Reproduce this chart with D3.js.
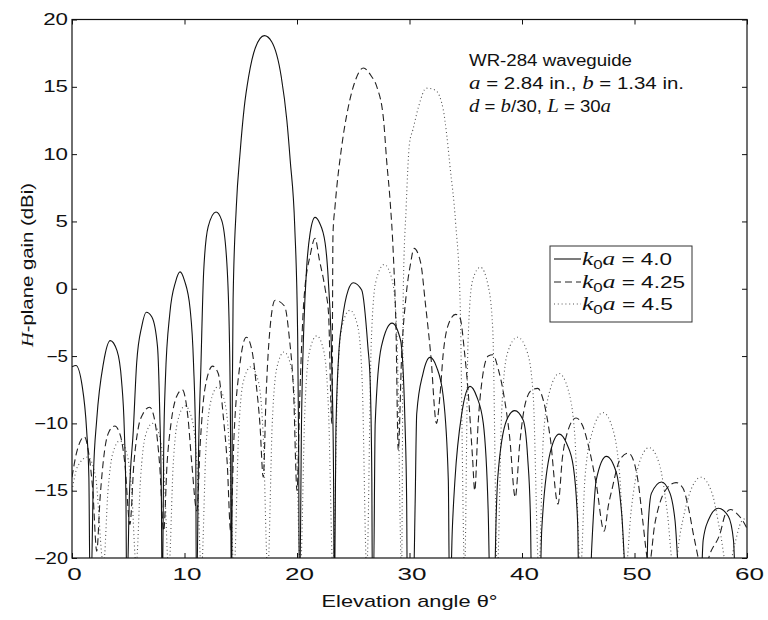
<!DOCTYPE html>
<html><head><meta charset="utf-8">
<script src="https://cdn.jsdelivr.net/npm/d3@7"></script>
<style>
body{margin:0;background:#fff}
svg{display:block}
text{font-family:"Liberation Sans",Arial,Helvetica,sans-serif;fill:#111}
</style></head><body>
<svg id="chart" width="768" height="620"></svg>
<script>
// ---- data ----
const xTicks = [0, 10, 20, 30, 40, 50, 60];
const yTicks = [-20, -15, -10, -5, 0, 5, 10, 15, 20];
const legendValues = ["4.0", "4.25", "4.5"];
const annotationLines = ["WR-284 waveguide", "a = 2.84 in., b = 1.34 in.", "d = b/30, L = 30a"];

// k0a = 4.0 (solid) : [elevation deg, gain dBi]
const gainK40 = [
[0,-5.8],[0.35,-5.7],[0.9,-7.2],[1.3,-10.5],[1.5,-14],[1.6,-22],
[1.7,-22],[1.9,-14],[2.2,-9.7],[2.8,-5.5],[3.4,-3.85],[4.0,-4.6],[4.4,-6.8],[4.65,-10.5],[4.8,-16],[4.85,-22],
[4.9,-22],[5.1,-15.4],[5.45,-10.5],[5.75,-5.5],[6.2,-2.8],[6.6,-1.75],[7.1,-2.1],[7.6,-4.3],[7.8,-9.2],[7.95,-16],[8.0,-22],
[8.05,-22],[8.15,-12],[8.3,-6.8],[8.7,-1.8],[9.2,0.5],[9.6,1.25],[10.0,0.6],[10.5,-1.5],[10.8,-5.5],[11.0,-12],[11.05,-22],
[11.1,-22],[11.25,-12],[11.45,-6],[11.7,1.2],[12.1,4.6],[12.8,5.7],[13.3,5.1],[13.75,2.1],[14.0,-4],[14.1,-12],[14.15,-22],
[14.2,-22],[14.25,-8],[14.32,-0.8],[14.6,6.0],[14.95,10.2],[15.3,13.4],[15.7,15.75],[16.3,17.9],[17.1,18.8],[17.75,18.35],[18.6,15.75],[19.1,12.5],[19.4,9.5],[19.8,4.6],[20.05,-3],[20.15,-12],[20.2,-22],
[20.25,-22],[20.4,-10],[20.6,-3],[20.86,1.6],[21.16,4.1],[21.6,5.3],[22.0,4.9],[22.5,3.4],[22.8,0.4],[23.1,-6],[23.25,-14],[23.3,-22],
[23.35,-22],[23.45,-11],[23.7,-5],[24.0,-2.5],[24.55,-0.1],[25.0,0.45],[25.75,-0.1],[26.3,-4.3],[26.5,-6.8],[26.65,-14],[26.7,-22],
[26.8,-22],[26.95,-10],[27.5,-4.3],[28.45,-2.55],[29.2,-3.8],[29.6,-10],[29.75,-16],[29.8,-22],
[30.35,-22],[30.5,-16],[30.64,-9.3],[31.2,-6.3],[31.82,-5.1],[32.4,-5.8],[33.0,-8.0],[33.45,-14.2],[33.55,-22],
[33.65,-22],[33.8,-18],[34.04,-14.2],[34.64,-9.3],[35.38,-7.25],[35.97,-8.0],[36.56,-10.0],[37.0,-16.7],[37.15,-22],
[37.55,-22],[37.7,-17],[37.85,-14],[38.64,-9.75],[39.35,-9.05],[40.1,-9.75],[40.5,-12.5],[40.75,-17],[40.85,-22],
[41.6,-22],[41.75,-18],[42.5,-12.2],[43.3,-10.8],[43.97,-11.5],[44.56,-13.2],[44.95,-17.5],[45.05,-22],
[46.05,-22],[46.2,-19.2],[46.6,-14.2],[47.5,-12.45],[48.4,-13.7],[48.86,-16.7],[49.3,-22],
[51.05,-22],[51.2,-17.9],[51.5,-15.2],[52.4,-14.35],[53.16,-15.2],[53.6,-17.2],[54.05,-22],
[55.9,-22],[56.1,-18.7],[56.56,-17.2],[57.45,-16.3],[58.34,-16.9],[58.8,-18.7],[59.0,-22],[60,-22]
];

// k0a = 4.25 (dashed)
const gainK425 = [
[0,-14],[0.4,-12.2],[1.1,-11.0],[1.5,-12.3],[1.85,-15],[2.2,-19.5],
[2.5,-15.5],[2.9,-12],[3.3,-10.6],[3.8,-10.2],[4.3,-10.9],[4.7,-13],[5.15,-17.5],
[5.5,-13],[5.9,-10.3],[6.3,-9.3],[6.9,-8.8],[7.4,-10],[7.8,-13.2],[8.15,-18],
[8.45,-13],[8.8,-10],[9.3,-8.0],[9.8,-7.5],[10.3,-9.5],[10.65,-13],[11.1,-16.5],
[11.4,-11.5],[11.8,-7.5],[12.5,-5.75],[13.0,-6.3],[13.45,-9.5],[13.8,-13],[14.1,-18],
[14.4,-11],[14.9,-5.8],[15.5,-3.6],[16.0,-4.6],[16.4,-7.3],[16.7,-10],[17.0,-14],
[17.25,-8],[17.5,-4],[18.05,-0.85],[18.9,-1.3],[19.3,-3.5],[19.7,-7.8],[20.0,-15],
[20.25,-8],[20.6,-1],[21.2,2.6],[21.6,3.75],[22.0,2.1],[22.5,0],[22.8,-1.8],[23.1,-10],
[23.2,4.1],[23.38,6.1],[23.97,10.55],[24.56,13.5],[25.2,15.5],[25.9,16.4],[26.6,15.8],[27.1,15.0],[27.7,12.5],[27.97,9.5],[28.27,6.6],[28.56,2.6],[28.8,-3],[29.0,-12],
[29.3,-5],[29.7,-0.5],[30.1,1.9],[30.4,3.0],[31.0,1.9],[31.4,-1],[31.9,-5],[32.4,-10],
[32.7,-8],[33.0,-4.8],[33.4,-2.8],[34.1,-1.9],[34.5,-2.2],[34.9,-4.8],[35.2,-7.5],[35.6,-12.5],[35.8,-15],
[36.1,-10],[36.5,-6.5],[37.0,-5.0],[37.4,-4.9],[37.9,-6.0],[38.3,-7.5],[38.9,-11],[39.4,-15.5],
[39.8,-11.5],[40.3,-8.5],[40.9,-7.5],[41.4,-7.4],[41.9,-8.3],[42.5,-11],[43.2,-16],
[43.6,-12.5],[44.1,-10.5],[44.8,-9.6],[45.4,-10.2],[46.0,-12],[46.6,-14.5],[47.3,-18],
[47.7,-16],[48.0,-14.9],[48.7,-12.7],[49.45,-12.2],[50.0,-13],[50.35,-14.5],[50.7,-17],[51.3,-20.5],
[51.8,-17.5],[52.3,-15.8],[52.9,-14.8],[53.7,-14.4],[54.3,-14.8],[54.8,-16.3],[55.3,-18.5],[56.1,-21],
[56.8,-19.5],[57.6,-18.2],[58.1,-16.7],[58.55,-16.4],[59.1,-16.7],[59.6,-17.2],[60,-17.8]
];

// k0a = 4.5 (dotted)
const gainK45 = [
[0,-15],[0.5,-13.2],[1.4,-12.5],[2.1,-14],[2.8,-20.5],
[3.2,-15],[3.6,-12.3],[4.25,-11.3],[4.9,-12.3],[5.3,-15],[5.7,-20.5],
[6.1,-14],[6.5,-11],[7.15,-10],[7.8,-11],[8.2,-14],[8.6,-21],
[9.0,-13],[9.4,-9.8],[10.05,-8.7],[10.7,-9.8],[11.1,-13],[11.5,-21],
[11.9,-12],[12.3,-8.5],[12.95,-7.3],[13.6,-8.5],[14.0,-12],[14.4,-21],
[14.8,-11],[15.2,-7.0],[15.9,-5.8],[16.6,-7.0],[17.0,-11],[17.4,-21],
[17.8,-10],[18.2,-5.9],[18.85,-4.7],[19.5,-5.9],[19.9,-10],[20.3,-21],
[20.7,-9],[21.1,-4.7],[21.75,-3.5],[22.4,-4.7],[22.8,-9],[23.2,-21],
[23.6,-7],[24.0,-2.8],[24.7,-1.6],[25.4,-2.8],[25.8,-7],[26.2,-21],
[26.6,-4],[27.0,0.5],[27.75,1.8],[28.5,0.5],[28.9,-4],[29.3,-21],
[29.45,0],[29.7,6],[30.0,10.8],[30.3,11.8],[30.8,13.5],[31.5,14.9],[32.3,14.75],[33.0,13.3],[33.3,11.5],[33.6,9.1],[34.1,4.9],[34.5,-1],[34.9,-21],
[35.2,-4],[35.6,0.6],[36.3,1.6],[37.0,0.2],[37.4,-3],[37.8,-21],
[38.2,-9],[38.7,-4.8],[39.6,-3.6],[40.5,-4.8],[41.0,-8],[41.5,-21],
[41.9,-11],[42.5,-7.5],[43.3,-6.3],[44.1,-7.5],[44.7,-11],[45.2,-21],
[45.6,-14],[46.3,-10.5],[47.2,-9.2],[48.1,-10.5],[48.7,-14],[49.2,-21],
[49.7,-16.5],[50.4,-13],[51.3,-11.8],[52.2,-13],[52.9,-16.5],[53.5,-21],
[54.1,-18],[54.9,-15.2],[55.9,-14.0],[56.9,-15.2],[57.6,-18],[58.3,-21],
[58.9,-19],[59.5,-17.3],[60,-17.0]
];

// ---- drawing ----
const SANS = '"Liberation Sans",Arial,Helvetica,sans-serif';
const SERIF = '"Liberation Serif","Times New Roman",Times,serif';
const svg = d3.select("#chart");
const x = d3.scaleLinear().domain([0, 60]).range([72, 747]);
const y = d3.scaleLinear().domain([-20, 20]).range([558, 19.5]);

svg.append("defs").append("clipPath").attr("id", "clip")
  .append("rect").attr("x", x(0)).attr("y", y(20))
  .attr("width", x(60) - x(0)).attr("height", y(-20) - y(20));

const line = d3.line().x(d => x(d[0])).y(d => y(d[1])).curve(d3.curveMonotoneX);
const styles = [
  {data: gainK40, dash: null, color: "#111", w: 1.1},
  {data: gainK425, dash: "7,4", color: "#222", w: 1.1},
  {data: gainK45, dash: "1,2.8", color: "#555", w: 1.1}
];
const plot = svg.append("g").attr("clip-path", "url(#clip)");
styles.slice().reverse().forEach(s => {
  plot.append("path").datum(s.data).attr("d", line)
    .attr("fill", "none").attr("stroke", s.color).attr("stroke-width", s.w)
    .attr("stroke-dasharray", s.dash);
});

// axes (MATLAB-style inward ticks on all four sides)
function styleAxis(g) { g.select(".domain").remove(); g.selectAll(".tick line").attr("stroke", "#111"); }
const axL = svg.append("g").attr("transform", `translate(${x(0)},0)`)
  .call(d3.axisLeft(y).tickValues(yTicks).tickSizeInner(-5).tickSizeOuter(0).tickPadding(4))
  .attr("font-family", SANS).attr("font-size", 16).call(styleAxis);
axL.selectAll(".tick text").attr("fill", "#111").each(function() {
  const s = this.textContent; let w = 0;
  for (const c of s) w += (c === "\u2212") ? 9 : 12.4;
  d3.select(this).attr("textLength", w).attr("lengthAdjust", "spacingAndGlyphs");
});
const axB = svg.append("g").attr("transform", `translate(0,${y(-20)})`)
  .call(d3.axisBottom(x).tickValues(xTicks).tickSizeInner(-5).tickSizeOuter(0).tickPadding(10))
  .attr("font-family", SANS).attr("font-size", 17).call(styleAxis);
axB.selectAll(".tick text").attr("fill", "#111").each(function() {
  const s = this.textContent;
  d3.select(this).attr("textLength", 14.5 * s.length).attr("lengthAdjust", "spacingAndGlyphs").attr("dx", 2);
});
svg.append("g").attr("transform", `translate(${x(60)},0)`)
  .call(d3.axisRight(y).tickValues(yTicks).tickSizeInner(-5).tickSizeOuter(0).tickFormat(""))
  .call(styleAxis);
svg.append("g").attr("transform", `translate(0,${y(20)})`)
  .call(d3.axisTop(x).tickValues(xTicks).tickSizeInner(-5).tickSizeOuter(0).tickFormat(""))
  .call(styleAxis);

svg.append("rect").attr("x", x(0)).attr("y", y(20))
  .attr("width", x(60) - x(0)).attr("height", y(-20) - y(20))
  .attr("fill", "none").attr("stroke", "#111").attr("stroke-width", 1.2);

// axis titles
svg.append("text").attr("x", (x(0) + x(60)) / 2).attr("y", 607)
  .attr("text-anchor", "middle").attr("font-size", 17)
  .attr("textLength", 176).attr("lengthAdjust", "spacingAndGlyphs")
  .text("Elevation angle \u03B8\u00B0");

const yl = svg.append("text").attr("transform", "translate(33,265) rotate(-90)")
  .attr("text-anchor", "middle").attr("font-size", 17)
  .attr("textLength", 164).attr("lengthAdjust", "spacingAndGlyphs");
yl.append("tspan").attr("font-family", SERIF).attr("font-style", "italic").text("H");
yl.append("tspan").text("-plane gain (dBi)");

// annotation block
const annX = 469;
const a1 = svg.append("text").attr("x", annX).attr("y", 66).attr("font-size", 16)
  .attr("textLength", 163).attr("lengthAdjust", "spacingAndGlyphs").text(annotationLines[0]);
const a2 = svg.append("text").attr("x", annX).attr("y", 89).attr("font-size", 16)
  .attr("textLength", 215).attr("lengthAdjust", "spacingAndGlyphs");
a2.append("tspan").attr("font-family", SERIF).attr("font-style", "italic").attr("font-size", 18).text("a");
a2.append("tspan").text(" = 2.84 in., ");
a2.append("tspan").attr("font-family", SERIF).attr("font-style", "italic").attr("font-size", 18).text("b");
a2.append("tspan").text(" = 1.34 in.");
const a3 = svg.append("text").attr("x", annX).attr("y", 111.5).attr("font-size", 16)
  .attr("textLength", 142).attr("lengthAdjust", "spacingAndGlyphs");
a3.append("tspan").attr("font-family", SERIF).attr("font-style", "italic").attr("font-size", 18).text("d");
a3.append("tspan").text(" = ");
a3.append("tspan").attr("font-family", SERIF).attr("font-style", "italic").attr("font-size", 18).text("b");
a3.append("tspan").text("/30, ");
a3.append("tspan").attr("font-family", SERIF).attr("font-style", "italic").attr("font-size", 18).text("L");
a3.append("tspan").text(" = 30");
a3.append("tspan").attr("font-family", SERIF).attr("font-style", "italic").attr("font-size", 18).text("a");

// legend
const lg = svg.append("g");
lg.append("rect").attr("x", 550).attr("y", 246).attr("width", 142).attr("height", 76)
  .attr("fill", "#fff").attr("stroke", "#333").attr("stroke-width", 1);
const rowBase = [265, 288, 310];
const rowLen = [90, 103, 91];
legendValues.forEach((v, i) => {
  lg.append("line").attr("x1", 554).attr("x2", 581).attr("y1", rowBase[i] - 6).attr("y2", rowBase[i] - 6)
    .attr("stroke", styles[i].color).attr("stroke-width", 1.1).attr("stroke-dasharray", styles[i].dash);
  const t = lg.append("text").attr("x", 582).attr("y", rowBase[i]).attr("font-size", 16)
    .attr("textLength", rowLen[i]).attr("lengthAdjust", "spacingAndGlyphs");
  t.append("tspan").attr("font-family", SERIF).attr("font-style", "italic").attr("font-size", 18).text("k");
  t.append("tspan").attr("font-size", 12).attr("dy", 4).text("0");
  t.append("tspan").attr("dy", -4).attr("font-family", SERIF).attr("font-style", "italic").attr("font-size", 18).text("a");
  t.append("tspan").text(" = " + v);
});
</script>
</body></html>
